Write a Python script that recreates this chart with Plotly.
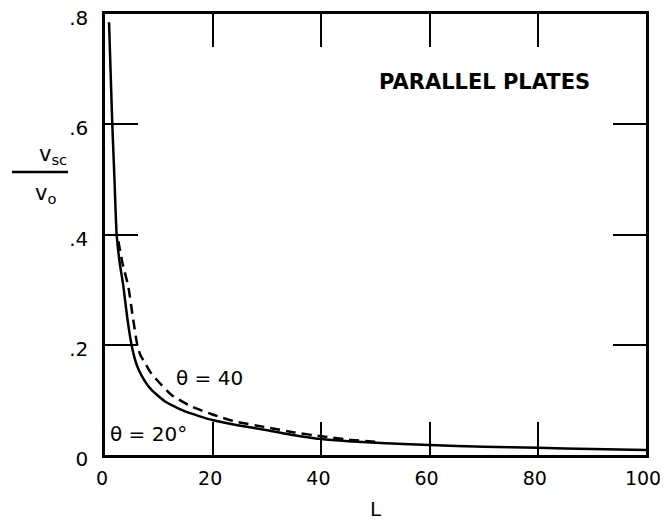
import plotly.graph_objects as go

# theta = 20 deg (solid)
L_20 = [0.75, 1.05, 1.35, 1.75, 2.15, 2.7, 3.4, 4.1, 4.9, 5.5, 6.2, 7.3, 8.6, 11.1, 14.8, 20.0, 24.0, 30.0, 35.0, 40.0, 45.0, 50.0, 60.0, 70.0, 80.0, 90.0, 100.0]
v_20 = [0.785, 0.69, 0.60, 0.50, 0.40, 0.35, 0.306, 0.25, 0.20, 0.175, 0.155, 0.135, 0.118, 0.097, 0.079, 0.063, 0.055, 0.045, 0.036, 0.029, 0.025, 0.022, 0.018, 0.015, 0.013, 0.011, 0.009]

# theta = 40 (dashed)
L_40 = [2.47, 3.3, 4.3, 5.15, 6.0, 6.6, 7.4, 8.4, 9.6, 12.3, 16.0, 20.0, 24.0, 30.0, 35.0, 40.0, 45.0, 50.0]
v_40 = [0.388, 0.345, 0.306, 0.25, 0.198, 0.18, 0.167, 0.15, 0.136, 0.109, 0.088, 0.073, 0.061, 0.05, 0.041, 0.034, 0.028, 0.024]

x_ticks = [0, 20, 40, 60, 80, 100]
x_ticktext = ["0", "20", "40", "60", "80", "100"]
y_ticks = [0, 0.2, 0.4, 0.6, 0.8]
y_ticktext = ["0", ".2", ".4", ".6", ".8"]

FONT = "DejaVu Sans"

fig = go.Figure()
fig.add_trace(go.Scatter(x=L_20, y=v_20, mode="lines",
                         line=dict(color="black", width=2.5, shape="spline", smoothing=0.5),
                         showlegend=False))
fig.add_trace(go.Scatter(x=L_40, y=v_40, mode="lines",
                         line=dict(color="black", width=2.5, dash="10px,6px", shape="spline", smoothing=0.5),
                         showlegend=False))

axis_common = dict(showgrid=False, zeroline=False, showline=True, linecolor="black",
                   linewidth=2.5, mirror="allticks", ticks="inside", tickcolor="black",
                   tickwidth=1.5, ticklen=33, automargin=False, ticklabeloverflow="allow")

fig.update_xaxes(range=[0, 100], tickvals=x_ticks, ticktext=x_ticktext,
                 ticklabelstandoff=4, ticklabelshift=-3,
                 tickfont=dict(family=FONT, size=19, color="black"),
                 title=dict(text="L", font=dict(family=FONT, size=20, color="black"), standoff=15),
                 **axis_common)
fig.update_yaxes(range=[0, 0.8], tickvals=y_ticks, ticktext=y_ticktext,
                 ticklabelstandoff=10, ticklabelshift=4,
                 tickfont=dict(family=FONT, size=20, color="black"),
                 **axis_common)

# plot area in screen pixels: x 105..646, y 14..455
def px(xp):
    return (xp - 105) / 541.0

def py(yp):
    return (455 - yp) / 441.0

ann = []
ann.append(dict(text="<b>PARALLEL PLATES</b>", x=px(484), y=py(82), xref="paper", yref="paper",
                showarrow=False, font=dict(family=FONT, size=21, color="black"),
                xanchor="center", yanchor="middle"))
ann.append(dict(text="θ = 40", x=px(209), y=py(378), xref="paper", yref="paper",
                showarrow=False, font=dict(family=FONT, size=20, color="black"),
                xanchor="center", yanchor="middle"))
ann.append(dict(text="θ = 20°", x=px(148), y=py(434), xref="paper", yref="paper",
                showarrow=False, font=dict(family=FONT, size=20, color="black"),
                xanchor="center", yanchor="middle"))
ann.append(dict(text="v<sub>sc</sub>", x=px(53), y=py(155), xref="paper", yref="paper",
                showarrow=False, font=dict(family=FONT, size=21, color="black"),
                xanchor="center", yanchor="middle"))
ann.append(dict(text="v<sub>o</sub>", x=px(45), y=py(194), xref="paper", yref="paper",
                showarrow=False, font=dict(family=FONT, size=21, color="black"),
                xanchor="center", yanchor="middle"))

fig.add_shape(type="line", xref="paper", yref="paper", x0=px(12), x1=px(68), y0=py(172), y1=py(172),
              line=dict(color="black", width=2.5))

# page body has an 8px margin, so the figure is sized/offset to compensate
fig.update_layout(width=660, height=513, plot_bgcolor="white", paper_bgcolor="white",
                  margin=dict(l=97, r=22, t=6, b=66, autoexpand=False), annotations=ann,
                  font=dict(family=FONT, color="black"))

fig.write_html("out.html")
